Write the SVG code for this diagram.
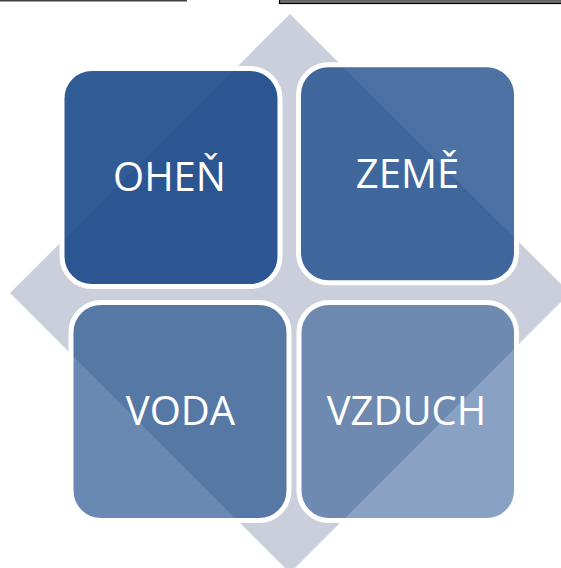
<svg xmlns="http://www.w3.org/2000/svg" width="561" height="568" viewBox="0 0 561 568">
  <style>
    .rule { fill: #404040; }
    .frame { fill: #6e6e6e; stroke: #000000; stroke-width: 1.2; }
    .backdrop { fill: #cbcfdb; }
    .tile { fill: #144687; stroke: #ffffff; stroke-width: 5; }
    .label { fill: #ffffff; font-family: "Open Sans", "Noto Sans", "DejaVu Sans", sans-serif; font-size: 40px; text-anchor: middle; }
  </style>

  <!-- page rules along the top edge -->
  <g id="page-rules">
    <rect class="rule" x="0" y="0" width="187" height="1.5"/>
    <rect class="frame" x="279.5" y="-0.5" width="290" height="4"/>
  </g>

  <!-- grey diamond behind the matrix -->
  <g id="backdrop">
    <polygon class="backdrop" points="290,14 570,293 290,573 10,293"/>
  </g>

  <g id="connectors"></g>

  <g id="node-ohen">
    <rect class="tile" x="62" y="68.5" width="218" height="218" rx="30" fill-opacity="0.88"/>
    <text class="label" x="169.5" y="191">OHEŇ</text>
  </g>

  <g id="node-zeme">
    <rect class="tile" x="298.5" y="64.8" width="218" height="218" rx="30" fill-opacity="0.76"/>
    <text class="label" x="407.5" y="188">ZEMĚ</text>
  </g>

  <g id="node-voda">
    <rect class="tile" x="71" y="302.5" width="218" height="218" rx="30" fill-opacity="0.64"/>
    <text class="label" x="180.5" y="424.5">VODA</text>
  </g>

  <g id="node-vzduch">
    <rect class="tile" x="299" y="302.5" width="217.5" height="218" rx="30" fill-opacity="0.5"/>
    <text class="label" x="406.5" y="425">VZDUCH</text>
  </g>
</svg>
